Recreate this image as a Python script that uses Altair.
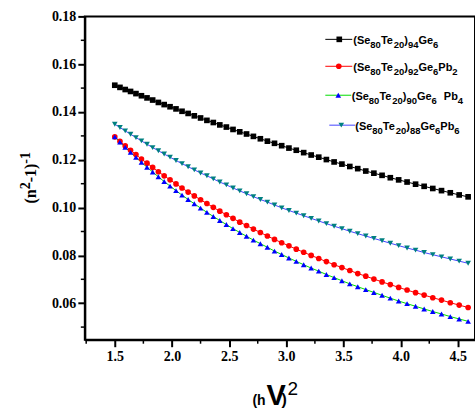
import altair as alt
import pandas as pd

# ---------------- data ----------------
x_vals = [1.5000, 1.5453, 1.5913, 1.6379, 1.6852, 1.7332, 1.7819, 1.8312, 1.8812, 1.9319,
          1.9833, 2.0353, 2.0880, 2.1414, 2.1954, 2.2502, 2.3056, 2.3617, 2.4184, 2.4758,
          2.5339, 2.5927, 2.6521, 2.7123, 2.7731, 2.8345, 2.8967, 2.9594, 3.0229, 3.0871,
          3.1519, 3.2174, 3.2836, 3.3505, 3.4180, 3.4862, 3.5551, 3.6246, 3.6948, 3.7657,
          3.8373, 3.9095, 3.9824, 4.0560, 4.1303, 4.2052, 4.2808, 4.3571, 4.4340, 4.5116,
          4.5899]

ge6 = [0.1512, 0.1503, 0.1494, 0.1486, 0.1477, 0.1468, 0.1459, 0.1450, 0.1440, 0.1431,
       0.1422, 0.1413, 0.1403, 0.1394, 0.1384, 0.1375, 0.1365, 0.1356, 0.1346, 0.1337,
       0.1327, 0.1317, 0.1308, 0.1298, 0.1288, 0.1278, 0.1269, 0.1259, 0.1249, 0.1240,
       0.1230, 0.1220, 0.1211, 0.1201, 0.1191, 0.1182, 0.1172, 0.1163, 0.1153, 0.1144,
       0.1135, 0.1125, 0.1116, 0.1107, 0.1098, 0.1089, 0.1080, 0.1071, 0.1062, 0.1053,
       0.1045]

pb2 = [0.1296, 0.1277, 0.1258, 0.1240, 0.1222, 0.1203, 0.1186, 0.1168, 0.1150, 0.1133,
       0.1116, 0.1099, 0.1082, 0.1065, 0.1049, 0.1033, 0.1017, 0.1001, 0.0985, 0.0970,
       0.0955, 0.0939, 0.0925, 0.0910, 0.0896, 0.0881, 0.0867, 0.0853, 0.0840, 0.0826,
       0.0813, 0.0800, 0.0787, 0.0774, 0.0761, 0.0749, 0.0737, 0.0724, 0.0713, 0.0701,
       0.0689, 0.0678, 0.0666, 0.0655, 0.0644, 0.0634, 0.0623, 0.0613, 0.0602, 0.0592,
       0.0582]

pb4 = [0.1296, 0.1274, 0.1252, 0.1231, 0.1210, 0.1189, 0.1169, 0.1149, 0.1129, 0.1109,
       0.1090, 0.1071, 0.1052, 0.1034, 0.1016, 0.0998, 0.0980, 0.0963, 0.0946, 0.0929,
       0.0912, 0.0896, 0.0880, 0.0864, 0.0849, 0.0834, 0.0818, 0.0804, 0.0789, 0.0775,
       0.0761, 0.0747, 0.0734, 0.0720, 0.0707, 0.0694, 0.0681, 0.0669, 0.0657, 0.0645,
       0.0633, 0.0621, 0.0609, 0.0598, 0.0587, 0.0576, 0.0565, 0.0555, 0.0544, 0.0534,
       0.0524]

pb6 = [0.1349, 0.1335, 0.1321, 0.1307, 0.1293, 0.1279, 0.1265, 0.1251, 0.1238, 0.1224,
       0.1211, 0.1197, 0.1184, 0.1171, 0.1158, 0.1145, 0.1133, 0.1120, 0.1107, 0.1095,
       0.1082, 0.1070, 0.1058, 0.1046, 0.1034, 0.1023, 0.1011, 0.0999, 0.0988, 0.0977,
       0.0966, 0.0955, 0.0944, 0.0933, 0.0922, 0.0912, 0.0901, 0.0891, 0.0881, 0.0871,
       0.0861, 0.0851, 0.0841, 0.0831, 0.0822, 0.0812, 0.0803, 0.0794, 0.0785, 0.0776,
       0.0767]

x_ticks = [1.5, 2.0, 2.5, 3.0, 3.5, 4.0, 4.5]
x_minor = [1.25, 1.75, 2.25, 2.75, 3.25, 3.75, 4.25]
y_ticks = [0.06, 0.08, 0.10, 0.12, 0.14, 0.16, 0.18]
y_minor = [0.05, 0.07, 0.09, 0.11, 0.13, 0.15, 0.17]

# legend texts: (text, kind) kind 0 = normal, 1 = subscript, 2 = normal after a gap
legend_rows = [
    [("(Se", 0), ("80", 1), ("Te", 0), ("20", 1), (")", 0), ("94", 1), ("Ge", 0), ("6", 1)],
    [("(Se", 0), ("80", 1), ("Te", 0), ("20", 1), (")", 0), ("92", 1), ("Ge", 0), ("6", 1),
     ("Pb", 0), ("2", 1)],
    [("(Se", 0), ("80", 1), ("Te", 0), ("20", 1), (")", 0), ("90", 1), ("Ge", 0), ("6", 1),
     ("Pb", 2), ("4", 1)],
    [("(Se", 0), ("80", 1), ("Te", 0), ("20", 1), (")", 0), ("88", 1), ("Ge", 0), ("6", 1),
     ("Pb", 0), ("6", 1)],
]

series = [
    # values, line colour, marker colour, marker shape
    (ge6, "#000000", "#000000", "square"),
    (pb2, "#ff0000", "#ff0000", "circle"),
    (pb4, "#00dd00", "#0000ff", "triangle-up"),
    (pb6, "#4444ff", "#008080", "triangle-down"),
]

# ---------------- layout ----------------
W, H = 391, 324
LEFT, TOP = 85, 16
X0, X1 = 1.238, 4.650
Y0, Y1 = 0.04472, 0.18


def px2x(px):
    return X0 + (px - LEFT) * (X1 - X0) / W


def py2y(py):
    return Y1 - (py - TOP) * (Y1 - Y0) / H


xs = alt.Scale(domain=[X0, X1], nice=False, zero=False)
ys = alt.Scale(domain=[Y0, Y1], nice=False, zero=False)

common_axis = dict(title=None, grid=False, tickSize=7, tickWidth=2, tickColor="black",
                   domainColor="black", domainWidth=2, labelFont="Liberation Serif",
                   labelFontWeight="bold", labelFontSize=14, labelColor="black",
                   labelFlush=False)
xaxis = alt.Axis(values=x_ticks, format=".1f", labelPadding=3, **common_axis)
yaxis = alt.Axis(values=y_ticks, format=".2f", labelPadding=2, **common_axis)


def X(field):
    return alt.X(field, type="quantitative", scale=xs, axis=xaxis)


def Y(field):
    return alt.Y(field, type="quantitative", scale=ys, axis=yaxis)


# series table
rows = []
for si, (vals, lc, pc, shp) in enumerate(series):
    for xv, yv in zip(x_vals, vals):
        rows.append({"x": xv, "y": yv, "s": si, "lc": lc, "pc": pc, "shp": shp})
df = pd.DataFrame(rows)

MSIZE = 32
lines = alt.Chart(df).mark_line(strokeWidth=1).encode(
    x=X("x"), y=Y("y"), detail="s:N", order="x:Q",
    color=alt.Color("lc:N", scale=None))
points = alt.Chart(df).mark_point(filled=True, size=MSIZE, opacity=1).encode(
    x=X("x"), y=Y("y"),
    color=alt.Color("pc:N", scale=None),
    shape=alt.Shape("shp:N", scale=None))

# minor ticks
ymin_df = pd.DataFrame({"v": y_minor})
xmin_df = pd.DataFrame({"v": x_minor})
yminor = alt.Chart(ymin_df).mark_rule(color="black", strokeWidth=1.5).encode(
    y=Y("v"), x=alt.value(-4), x2=alt.value(0))
xminor = alt.Chart(xmin_df).mark_rule(color="black", strokeWidth=1.5).encode(
    x=X("v"), y=alt.value(H), y2=alt.value(H + 4))

# legend
arial_w = {"(": 0.333, ")": 0.333, "S": 0.667, "e": 0.556, "T": 0.611, "G": 0.778,
           "P": 0.667, "b": 0.611, " ": 0.278}
MAIN, SUB = 11, 9.5
row_line_y = [39, 66, 95, 125]
row_text_x = [354, 354, 352.5, 356]
row_line_x = [(326, 353), (326, 353), (326, 352), (330, 356)]
row_mark_x = [340, 339.5, 339, 342]

seg_rows, rule_rows, mark_rows = [], [], []
for ri, segs in enumerate(legend_rows):
    cx = row_text_x[ri]
    ly = row_line_y[ri]
    for txt, kind in segs:
        if kind == 2:
            cx += 7
        fs = SUB if kind == 1 else MAIN
        base = ly + 8.5 if kind == 1 else ly + 4.5
        seg_rows.append({"ax": px2x(cx), "ay": py2y(base), "t": txt, "fs": fs})
        cx += sum(arial_w.get(c, 0.556) for c in txt) * fs
    vals, lc, pc, shp = series[ri]
    rule_rows.append({"a": px2x(row_line_x[ri][0]), "b": px2x(row_line_x[ri][1]),
                      "ly": py2y(ly), "c": lc})
    mark_rows.append({"lx": px2x(row_mark_x[ri]), "ly": py2y(ly), "c": pc, "shp": shp})

leg_text = alt.Chart(pd.DataFrame(seg_rows)).mark_text(
    align="left", baseline="alphabetic", font="Liberation Sans", fontWeight="bold",
    color="black").encode(
    x=X("ax"), y=Y("ay"), text="t:N", size=alt.Size("fs:Q", scale=None, legend=None))
leg_rules = alt.Chart(pd.DataFrame(rule_rows)).mark_rule(strokeWidth=1).encode(
    x=X("a"), x2="b:Q", y=Y("ly"), color=alt.Color("c:N", scale=None))
leg_marks = alt.Chart(pd.DataFrame(mark_rows)).mark_point(filled=True, size=MSIZE, opacity=1).encode(
    x=X("lx"), y=Y("ly"), color=alt.Color("c:N", scale=None),
    shape=alt.Shape("shp:N", scale=None))

# y-axis title (n^2-1)^-1, rotated, built from segments
times_w = {"(": 0.333, ")": 0.333, "n": 0.556, "-": 0.333, "1": 0.5, "2": 0.5}
ytitle_segs = [("(n", 0), ("2", 1), ("-1)", 0), ("-1", 1)]
YT_MAIN, YT_SUP = 16, 14
cy = 203.5
yt_rows = []
for txt, sup in ytitle_segs:
    fs = YT_SUP if sup else YT_MAIN
    bx = 30.5 if sup else 36.5
    yt_rows.append({"ax": px2x(bx), "ay": py2y(cy), "t": txt, "fs": fs})
    cy -= sum(times_w[c] for c in txt) * fs
ytitle = alt.Chart(pd.DataFrame(yt_rows)).mark_text(
    align="left", baseline="alphabetic", angle=270, font="Liberation Serif",
    fontWeight="bold", color="black").encode(
    x=X("ax"), y=Y("ay"), text="t:N", size=alt.Size("fs:Q", scale=None, legend=None))

# x-axis title (hV)^2
xt_bold = pd.DataFrame([
    {"ax": px2x(253), "ay": py2y(405), "t": "(h", "fs": 14},
    {"ax": px2x(267), "ay": py2y(405), "t": "V", "fs": 29},
    {"ax": px2x(282), "ay": py2y(405), "t": ")", "fs": 16},
])
xt_sup = pd.DataFrame([{"ax": px2x(288), "ay": py2y(395), "t": "2", "fs": 19}])
xtitle1 = alt.Chart(xt_bold).mark_text(
    align="left", baseline="alphabetic", font="Liberation Sans", fontWeight="bold",
    color="black").encode(
    x=X("ax"), y=Y("ay"), text="t:N", size=alt.Size("fs:Q", scale=None, legend=None))
xtitle2 = alt.Chart(xt_sup).mark_text(
    align="left", baseline="alphabetic", font="Liberation Sans", fontWeight="normal",
    color="black").encode(
    x=X("ax"), y=Y("ay"), text="t:N", size=alt.Size("fs:Q", scale=None, legend=None))

chart = alt.layer(
    lines, points, yminor, xminor, leg_rules, leg_marks, leg_text, ytitle, xtitle1, xtitle2
).properties(
    width=W, height=H,
    padding={"left": LEFT, "top": TOP, "right": 0, "bottom": 410 - TOP - H},
    autosize=alt.AutoSizeParams(type="none"),
    background="white",
).configure_view(stroke="black", strokeWidth=2)

chart.save("out.html", embed_options={"renderer": "svg", "actions": False})
